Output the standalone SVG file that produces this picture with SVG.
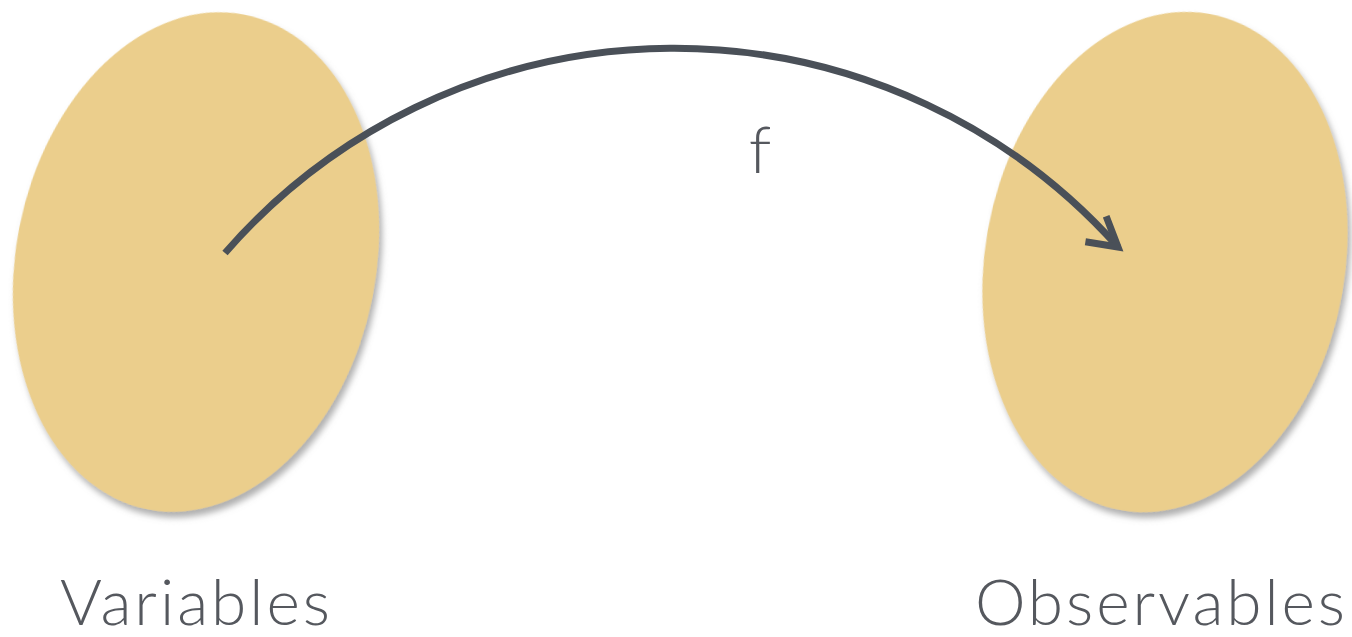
<svg xmlns="http://www.w3.org/2000/svg" width="1352" height="637" viewBox="0 0 1352 637">
  <style>
    .blob { fill: #ebce8c; filter: url(#shadow); }
    .label { font-family: Lato, "Open Sans", "Liberation Sans", sans-serif; font-weight: 300; fill: #55585e; }
    .conn { fill: none; stroke: #4a5058; stroke-width: 7; }
  </style>
  <defs>
    <filter id="shadow" x="-20%" y="-20%" width="140%" height="140%">
      <feDropShadow dx="4" dy="5" stdDeviation="3" flood-color="#6e6e6e" flood-opacity="0.55"/>
    </filter>
    <marker id="head" markerUnits="userSpaceOnUse" viewBox="-40 -25 50 50" refX="0" refY="0" markerWidth="50" markerHeight="50" orient="39" overflow="visible">
      <path d="M-28.6,-16.5 L0,0 L-28.6,16.5" fill="none" stroke="#4a5058" stroke-width="7" stroke-linejoin="miter"/>
    </marker>
  </defs>
  <rect width="1352" height="637" fill="#ffffff"/>
  <g id="variables">
    <ellipse class="blob" cx="196" cy="262" rx="180" ry="252" transform="rotate(11 196 262)"/>
    <text class="label" x="60" y="625" font-size="64" textLength="270" lengthAdjust="spacing">Variables</text>
  </g>
  <g id="observables">
    <ellipse class="blob" cx="1165" cy="262" rx="180" ry="252" transform="rotate(10 1165 262)"/>
    <text class="label" x="975" y="625" font-size="64" textLength="370" lengthAdjust="spacing">Observables</text>
  </g>
  <g id="connectors">
    <path class="conn" d="M225,253 A595,595 0 0 1 1118,247" marker-end="url(#head)"/>
    <text class="label" x="760" y="173" font-size="66" text-anchor="middle">f</text>
  </g>
</svg>
